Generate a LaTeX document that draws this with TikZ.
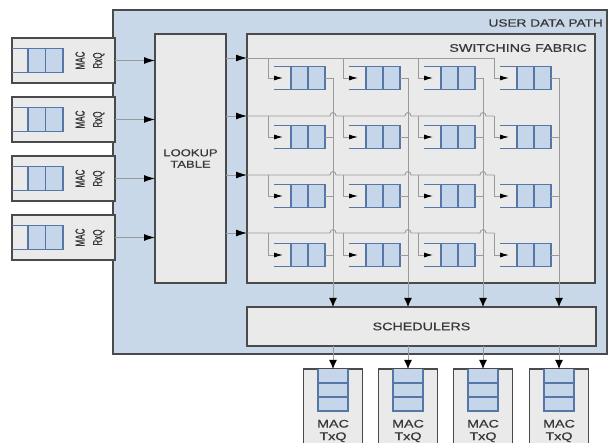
\documentclass[tikz,border=0pt]{standalone}
\usepackage{fontspec}
\setmainfont{Liberation Sans}
\newfontfamily\widesf[FakeStretch=1.3,FakeBold=0.6]{Liberation Sans}
\newfontfamily\narrowsf[FakeStretch=0.62,FakeBold=0.8]{Liberation Sans}
\usetikzlibrary{arrows.meta}
\definecolor{udpblue}{HTML}{C9D8E8}
\definecolor{boxgray}{HTML}{EAEAEA}
\definecolor{edgegray}{HTML}{4A4A4A}
\definecolor{qfill}{HTML}{C6D6EA}
\definecolor{qedge}{HTML}{5676A6}
\definecolor{wire}{HTML}{9A9A9A}
\definecolor{txt}{HTML}{383838}
\newcommand\hqueue[5]{%
  \fill[qfill] (#1+#3,#2-#5) rectangle (#1+#3+2*#4,#2+#5);
  \draw[qedge,line width=1.2pt] (#1,#2-#5) -- (#1+#3+2*#4,#2-#5) -- (#1+#3+2*#4,#2+#5) -- (#1,#2+#5);
  \draw[qedge,line width=1.2pt] (#1+#3,#2-#5) -- (#1+#3,#2+#5) (#1+#3+#4,#2-#5) -- (#1+#3+#4,#2+#5);
}
\newcommand\vqueue[5]{%
  \fill[qfill] (#1-#5,#2) rectangle (#1+#5,#2+#3+2*#4);
  \draw[qedge,line width=1.2pt] (#1-#5,#2) -- (#1-#5,#2+#3+2*#4) -- (#1+#5,#2+#3+2*#4) -- (#1+#5,#2);
  \draw[qedge,line width=1.2pt] (#1-#5,#2+#3) -- (#1+#5,#2+#3) (#1-#5,#2+#3+#4) -- (#1+#5,#2+#3+#4);
}
\begin{document}
\begin{tikzpicture}[x=1pt,y=-1pt,
  udpbox/.style={draw=edgegray,line width=1.3pt,fill=udpblue,inner sep=0,outer sep=0,anchor=north west},
  panel/.style={draw=edgegray,line width=1.3pt,fill=boxgray,inner sep=0,outer sep=0,anchor=north west},
  lbl/.style={text=txt,inner sep=0},
  wireline/.style={draw=wire,line width=0.9pt},
  bigtip/.style={-{Latex[length=11pt,width=7pt,color=black]}},
  downtip/.style={-{Latex[length=9pt,width=8pt,color=black]}},
  smalltip/.style={-{Latex[length=9pt,width=5pt,color=black]}}]
\clip (0,0) rectangle (611,443);
\useasboundingbox (0,0) rectangle (611,443);

% user data path
\node[udpbox,minimum width=494,minimum height=344] (udp) at (113,10) {};
\node[lbl,anchor=east,font=\widesf\fontsize{10.5}{12}\selectfont] (udplbl) at (603,23) {USER DATA PATH};

% lookup table
\node[panel,minimum width=71,minimum height=249] (lut) at (155,34) {};
\node[lbl,align=center,font=\widesf\fontsize{10}{11.5}\selectfont] (lutlbl) at (190.5,158.5) {LOOKUP\\TABLE};

% switching fabric
\node[panel,minimum width=348,minimum height=249] (sf) at (247,34) {};
\node[lbl,anchor=east,font=\widesf\fontsize{11}{12}\selectfont] (sflbl) at (587,48) {SWITCHING FABRIC};

% schedulers
\node[panel,minimum width=349,minimum height=39] (sch) at (247,307) {};
\node[lbl,font=\widesf\fontsize{11}{12}\selectfont] (schlbl) at (sch.center) {SCHEDULERS};

% MAC RxQ boxes
\foreach \i/\yt/\yin in {0/38/58,1/97/116,2/156/175,3/215/233} {
  \node[panel,minimum width=103,minimum height=45] (rx-\i) at (12,\yt) {};
  \hqueue{12}{\yt+22.5}{16}{17.5}{12}
  \node[lbl,rotate=90,align=center,font=\narrowsf\fontsize{13}{17.5}\selectfont] (rxlbl-\i) at (90,\yt+22.5) {MAC\\RxQ};
  \draw[wireline,bigtip] (rx-\i.east) -- (rx-\i.east -| lut.west);
  \coordinate (yin-\i) at (0,\yin);
  \draw[wireline,bigtip] (lut.east |- yin-\i) -- (sf.west |- yin-\i);
}

% fabric queues
\foreach \i/\yc/\yin in {0/78/58,1/137/116,2/196/175,3/255/233} {
  \foreach \j/\xo in {0/274,1/349,2/424,3/500} {
    \hqueue{\xo}{\yc}{17}{17}{11.5}
    \coordinate (qin-\i-\j) at (\xo+9,\yc);
    \coordinate (qout-\i-\j) at (\xo+51,\yc);
    \coordinate (br-\i-\j) at (\xo-6,\yin);
    \draw[wireline,smalltip] (br-\i-\j) |- (qin-\i-\j);
    \draw[wireline] (qout-\i-\j) -- ++(8,0);
  }
}

% input lines inside fabric (with hops)
\draw[wireline] (sf.west |- yin-0) -- (br-0-3);
\foreach \i/\y in {1/116,2/175,3/233} {
  \draw[wireline] (sf.west |- yin-\i) -- (330,\y)
    .. controls (330,\y-4.5) and (336,\y-4.5) .. (336,\y) -- (405,\y)
    .. controls (405,\y-4.5) and (411,\y-4.5) .. (411,\y) -- (480,\y)
    .. controls (480,\y-4.5) and (486,\y-4.5) .. (486,\y) -- (br-\i-3);
}

% output verticals, schedulers and TxQ
\foreach \j/\x in {0/333,1/408,2/483,3/559} {
  \coordinate (vtop-\j) at (\x,78);
  \draw[wireline,downtip] (vtop-\j) -- (vtop-\j |- sch.north);
  \node[panel,anchor=north,minimum width=59,minimum height=100] (tx-\j) at (\x,369) {};
  \vqueue{\x}{369}{14}{14}{15}
  \node[lbl,align=center,font=\widesf\fontsize{11}{12.5}\selectfont] (txlbl-\j) at (\x,431) {MAC\\TxQ};
  \draw[wireline,downtip] (vtop-\j |- sch.south) -- (tx-\j.north);
}
\end{tikzpicture}
\end{document}
